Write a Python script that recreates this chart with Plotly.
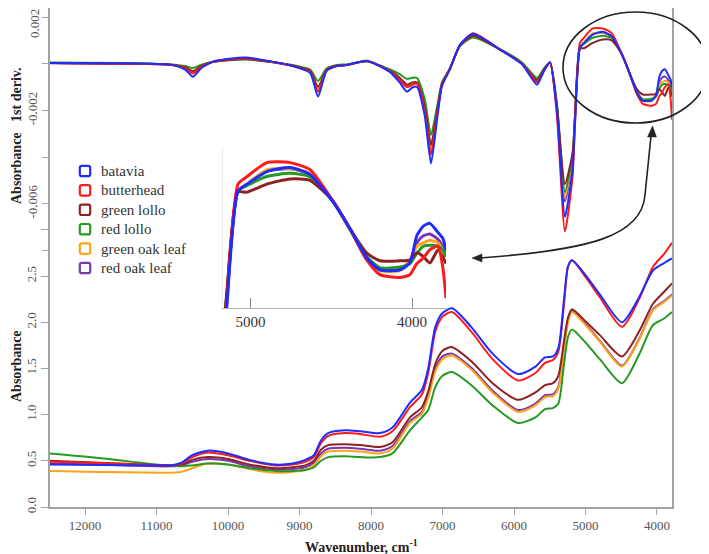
import plotly.graph_objects as go

# ---------------- data ----------------
series_names = ["batavia", "butterhead", "green lollo", "red lollo", "green oak leaf", "red oak leaf"]
series_colors = ["#1f2bff", "#ff1a1a", "#8b2323", "#249a24", "#ffa21a", "#7a35b5"]

# first derivative (units of 1e-3)
wn_deriv = [12500, 11500, 10800, 10600, 10490, 10380, 10200, 9760, 9400, 9035, 8850, 8741, 8620, 8476,
            8336, 8056, 7734, 7600, 7497, 7420, 7357, 7250, 7161, 7080, 7007, 6895, 6755, 6573, 6196,
            5888, 5678, 5580, 5497, 5400, 5287, 5180, 5147, 5078, 5022, 4899, 4756, 4633, 4490, 4385,
            4280, 4199, 4076, 4014, 3970, 3930, 3890, 3840, 3810, 3790]
d_batavia = [0.03, 0.02, -0.05, -0.25, -0.56, -0.2, 0.1, 0.27, 0.1, -0.15, -0.4, -1.41, -0.3, -0.1,
             -0.06, 0.13, -0.36, -0.8, -1.2, -1.02, -0.99, -2.2, -4.27, -2.5, -0.95, -0.23, 0.82, 1.28, 0.61,
             -0.02, -0.9, -0.3, 0.06, -2.0, -6.55, -4.5, -2.6, 0.69, 0.89, 1.25, 1.37, 1.17, 0.38, -0.39,
             -1.24, -1.58, -1.58, -1.38, -0.59, -0.32, -0.24, -0.5, -0.67, -1.01]
d_butterhead = [0.03, 0.0, -0.05, -0.2, -0.42, -0.15, 0.1, 0.22, 0.08, -0.15, -0.35, -1.2, -0.28, -0.1,
                -0.06, 0.12, -0.33, -0.7, -1.0, -0.9, -0.85, -2.0, -3.9, -2.3, -0.9, -0.2, 0.8, 1.3, 0.6,
                0.0, -0.8, -0.3, 0.05, -2.2, -7.18, -4.8, -2.5, 0.89, 1.11, 1.51, 1.51, 1.31, 0.4, -0.39,
                -1.3, -1.72, -1.8, -1.72, -1.4, -1.24, -1.0, -0.9, -1.5, -2.4]
d_green_lollo = [0.02, 0.0, -0.04, -0.15, -0.32, -0.1, 0.08, 0.2, 0.08, -0.12, -0.3, -0.99, -0.25, -0.08,
                 -0.05, 0.1, -0.3, -0.6, -0.9, -0.8, -0.8, -1.8, -3.47, -2.1, -0.85, -0.2, 0.78, 1.2, 0.6,
                 0.0, -0.7, -0.25, 0.05, -1.8, -5.16, -3.8, -2.2, 0.66, 0.66, 0.89, 1.04, 1.0, 0.4, -0.4,
                 -1.1, -1.32, -1.32, -1.3, -1.09, -1.2, -1.38, -1.01, -1.2, -1.4]
d_red_lollo = [0.05, 0.03, -0.03, -0.1, -0.19, -0.05, 0.08, 0.18, 0.07, -0.1, -0.25, -0.74, -0.2, -0.05,
               -0.03, 0.1, -0.25, -0.45, -0.65, -0.6, -0.61, -1.5, -3.05, -1.9, -0.8, -0.2, 0.75, 1.12, 0.62,
               0.05, -0.61, -0.2, 0.05, -1.7, -5.5, -3.9, -2.3, 0.69, 0.85, 1.11, 1.2, 1.1, 0.4, -0.4,
               -1.2, -1.52, -1.5, -1.4, -1.1, -0.9, -0.87, -0.9, -1.0, -1.2]
d_green_oak = [0.03, 0.01, -0.04, -0.17, -0.36, -0.12, 0.09, 0.22, 0.08, -0.13, -0.33, -1.1, -0.27, -0.09,
               -0.05, 0.11, -0.3, -0.65, -0.9, -0.82, -0.8, -1.85, -3.7, -2.2, -0.88, -0.2, 0.8, 1.2, 0.6,
               0.02, -0.7, -0.25, 0.05, -1.8, -5.7, -4.0, -2.3, 0.7, 0.9, 1.3, 1.34, 1.2, 0.4, -0.4,
               -1.3, -1.6, -1.6, -1.3, -0.9, -0.8, -0.73, -0.8, -1.0, -1.2]
d_red_oak = [0.03, 0.01, -0.04, -0.18, -0.38, -0.13, 0.09, 0.23, 0.08, -0.14, -0.35, -1.15, -0.28, -0.09,
             -0.05, 0.11, -0.32, -0.7, -0.95, -0.85, -0.83, -1.9, -3.8, -2.25, -0.9, -0.21, 0.8, 1.22, 0.6,
             0.01, -0.75, -0.27, 0.05, -1.85, -5.9, -4.1, -2.35, 0.7, 0.88, 1.27, 1.33, 1.18, 0.4, -0.4,
             -1.28, -1.58, -1.57, -1.33, -0.8, -0.6, -0.55, -0.7, -0.9, -1.15]

# absorbance
wn_abs = [12500, 11800, 11000, 10800, 10650, 10500, 10280, 10000, 9700, 9343, 9100, 8920, 8800, 8700,
          8600, 8364, 8150, 7874, 7700, 7455, 7287, 7200, 7100, 7000, 6867, 6600, 6300, 5944, 5700,
          5566, 5455, 5380, 5300, 5245, 5189, 5000, 4800, 4490, 4250, 4056, 3900, 3790]
a_batavia = [0.46, 0.455, 0.45, 0.45, 0.48, 0.56, 0.61, 0.58, 0.51, 0.46, 0.47, 0.51, 0.56, 0.72,
             0.80, 0.83, 0.82, 0.80, 0.86, 1.13, 1.27, 1.5, 1.95, 2.1, 2.15, 1.95, 1.66, 1.44, 1.52,
             1.62, 1.63, 1.72, 2.25, 2.6, 2.67, 2.51, 2.3, 2.0, 2.27, 2.56, 2.64, 2.69]
a_butterhead = [0.49, 0.475, 0.45, 0.45, 0.47, 0.54, 0.59, 0.56, 0.50, 0.45, 0.46, 0.49, 0.54, 0.69,
                0.77, 0.80, 0.79, 0.76, 0.82, 1.08, 1.22, 1.45, 1.9, 2.06, 2.11, 1.9, 1.6, 1.37, 1.45,
                1.56, 1.59, 1.68, 2.2, 2.6, 2.67, 2.49, 2.27, 1.95, 2.25, 2.6, 2.74, 2.86]
a_green_lollo = [0.50, 0.48, 0.455, 0.45, 0.46, 0.51, 0.54, 0.52, 0.46, 0.42, 0.43, 0.45, 0.50, 0.62,
                 0.67, 0.68, 0.67, 0.65, 0.70, 0.97, 1.08, 1.25, 1.55, 1.69, 1.73, 1.58, 1.34, 1.16, 1.24,
                 1.32, 1.34, 1.42, 1.8, 2.05, 2.14, 2.01, 1.86, 1.63, 1.9, 2.2, 2.33, 2.42]
a_red_lollo = [0.58, 0.53, 0.46, 0.45, 0.44, 0.45, 0.47, 0.46, 0.42, 0.39, 0.39, 0.40, 0.43, 0.50,
               0.54, 0.55, 0.54, 0.54, 0.58, 0.83, 0.97, 1.05, 1.3, 1.42, 1.46, 1.32, 1.1, 0.91, 0.97,
               1.06, 1.07, 1.12, 1.55, 1.84, 1.92, 1.78, 1.6, 1.34, 1.65, 1.97, 2.04, 2.11]
a_green_oak = [0.39, 0.38, 0.37, 0.37, 0.38, 0.42, 0.47, 0.46, 0.41, 0.37, 0.38, 0.40, 0.45, 0.55,
               0.60, 0.61, 0.60, 0.58, 0.63, 0.91, 1.01, 1.18, 1.47, 1.60, 1.64, 1.49, 1.24, 1.03, 1.10,
               1.19, 1.20, 1.28, 1.72, 2.0, 2.11, 1.97, 1.79, 1.52, 1.81, 2.13, 2.22, 2.29]
a_red_oak = [0.47, 0.46, 0.44, 0.44, 0.45, 0.49, 0.52, 0.50, 0.44, 0.40, 0.41, 0.43, 0.48, 0.58,
             0.63, 0.64, 0.63, 0.61, 0.66, 0.93, 1.03, 1.2, 1.5, 1.63, 1.66, 1.51, 1.26, 1.05, 1.12,
             1.21, 1.22, 1.3, 1.74, 2.02, 2.12, 1.98, 1.8, 1.53, 1.82, 2.14, 2.23, 2.3]

abs_ticks = [0.0, 0.5, 1.0, 1.5, 2.0, 2.5, 3.0]
abs_ticktext = ["0.0", "0.5", "1.0", "1.5", "2.0", "2.5", " "]
deriv_ticks = [0.002, 0.0, -0.002, -0.004, -0.006, -0.008]
deriv_ticktext = [" ", " ", "-0.002", " ", "-0.006", " "]
deriv_top_label = "0.002"
wn_ticks = [12000, 11000, 10000, 9000, 8000, 7000, 6000, 5000, 4000]
wn_ticktext = ["12000", "11000", "10000", "9000", "8000", "7000", "6000", "5000", "4000"]
inset_ticks = [5000, 4000]
inset_ticktext = ["5000", "4000"]

deriv_series = [d_batavia, d_butterhead, d_green_lollo, d_red_lollo, d_green_oak, d_red_oak]
abs_series = [a_batavia, a_butterhead, a_green_lollo, a_red_lollo, a_green_oak, a_red_oak]

# ---------------- geometry (window pixels; page body adds an 8px offset) ----------------
OFF = 8
W, H = 709 - OFF, 554 - OFF
PL, PR, PT, PB = 50, 672, 8, 507          # plot area in window pixels
ML, MT = PL - OFF, PT - OFF
MR = W - (PR - OFF)
MB = H - (PB - OFF)
PW, PH = PR - PL, PB - PT


def fx(x):
    return (x - PL) / PW


def fy(y):
    return (PB - y) / PH


SERIF = "Liberation Serif, Times New Roman, serif"
draw_order = [5, 4, 3, 2, 1, 0]

fig = go.Figure()

for i in draw_order:
    fig.add_trace(go.Scatter(x=wn_abs, y=abs_series[i], mode="lines", xaxis="x", yaxis="y",
                             line=dict(color=series_colors[i], width=2, shape="spline", smoothing=0.7),
                             showlegend=False, hoverinfo="skip"))
for i in draw_order:
    fig.add_trace(go.Scatter(x=wn_deriv, y=[v * 1e-3 for v in deriv_series[i]], mode="lines",
                             xaxis="x", yaxis="y2",
                             line=dict(color=series_colors[i], width=2, shape="spline", smoothing=0.6),
                             showlegend=False, hoverinfo="skip"))
for i in draw_order:
    fig.add_trace(go.Scatter(x=wn_deriv, y=[v * 1e-3 for v in deriv_series[i]], mode="lines",
                             xaxis="x3", yaxis="y3",
                             line=dict(color=series_colors[i], width=3, shape="spline", smoothing=0.6),
                             showlegend=False, hoverinfo="skip"))

axis_gray = "#a3a3a3"
abs_top = (PB - PT) / 92.4
d_top = 0.002 + (17 - PT) / 46.7 * 0.002
d_bot = 0.002 - (PB - 17) / 46.7 * 0.002

fig.update_layout(
    width=W, height=H,
    margin=dict(l=ML, r=MR, t=MT, b=MB, pad=0),
    paper_bgcolor="white", plot_bgcolor="rgba(0,0,0,0)",
    font=dict(family=SERIF, color="#555"),
    showlegend=False,
    xaxis=dict(range=[12490, 3790], domain=[0, 1], anchor="y", tickvals=wn_ticks, ticktext=wn_ticktext,
               showline=True, mirror=True, linecolor=axis_gray, linewidth=1.6,
               ticks="outside", ticklen=6, tickcolor=axis_gray, tickwidth=1.3, automargin=False,
               showgrid=False, zeroline=False, tickfont=dict(size=13, color="#555")),
    yaxis=dict(range=[0, abs_top], domain=[0, 1], anchor="x", tickvals=abs_ticks, ticktext=abs_ticktext,
               showline=True, mirror=True, linecolor=axis_gray, linewidth=1.6, automargin=False,
               ticks="outside", ticklen=7, tickcolor=axis_gray, tickwidth=1.3, tickangle=-90,
               showgrid=False, zeroline=False, tickfont=dict(size=13, color="#555")),
    yaxis2=dict(range=[d_bot, d_top], overlaying="y", side="left", anchor="x",
                tickvals=deriv_ticks, ticktext=deriv_ticktext, automargin=False,
                showline=False, ticks="outside", ticklen=7, tickcolor=axis_gray, tickwidth=1.3,
                tickangle=-90, showgrid=False, zeroline=False, tickfont=dict(size=13, color="#555")),
    xaxis3=dict(domain=[fx(223), fx(446)], range=[5171, 3790], anchor="y3", tickvals=inset_ticks,
                ticktext=inset_ticktext, automargin=False,
                showline=True, linecolor="#b0b0b0", linewidth=1.3, ticks="inside", ticklen=10,
                tickcolor="#888", tickwidth=1.3, showgrid=False, zeroline=False,
                tickfont=dict(size=15, color="#333")),
    yaxis3=dict(domain=[fy(308), fy(147)], range=[-0.00268, 0.00196], anchor="x3", automargin=False,
                showline=True, linecolor="#ebebeb", linewidth=1, ticks="", showticklabels=False,
                showgrid=False, zeroline=False),
)

# top derivative tick label (kept inside the page)
fig.add_annotation(xref="paper", yref="paper", x=fx(34), y=fy(24), xanchor="center", yanchor="middle",
                   text=deriv_top_label, textangle=-90, showarrow=False,
                   font=dict(family=SERIF, size=13, color="#555"))

# axis titles
fig.add_annotation(xref="paper", yref="paper", x=fx(16), y=fy(136), xanchor="center", yanchor="middle",
                   text="<b>Absorbance\u00a0\u00a0\u00a01st deriv.</b>",
                   textangle=-90, showarrow=False, font=dict(family=SERIF, size=14, color="#222"))
fig.add_annotation(xref="paper", yref="paper", x=fx(16), y=fy(366), xanchor="center", yanchor="middle",
                   text="<b>Absorbance</b>",
                   textangle=-90, showarrow=False, font=dict(family=SERIF, size=14, color="#222"))
fig.add_annotation(xref="paper", yref="paper", x=fx(361), y=fy(546), xanchor="center", yanchor="middle",
                   text="<b>Wavenumber, cm<sup>-1</sup></b>",
                   showarrow=False, font=dict(family=SERIF, size=14, color="#222"))


def P(x, y):
    return f"{fx(x):.5f},{fy(y):.5f}"


# legend (rounded open squares + labels)
legend_y0, legend_dy = 171, 19.4
for i, name in enumerate(series_names):
    cy = legend_y0 + i * legend_dy
    cx, h, r = 85, 5.2, 2.0
    path = (f"M {P(cx - h + r, cy - h)} L {P(cx + h - r, cy - h)} Q {P(cx + h, cy - h)} {P(cx + h, cy - h + r)} "
            f"L {P(cx + h, cy + h - r)} Q {P(cx + h, cy + h)} {P(cx + h - r, cy + h)} "
            f"L {P(cx - h + r, cy + h)} Q {P(cx - h, cy + h)} {P(cx - h, cy + h - r)} "
            f"L {P(cx - h, cy - h + r)} Q {P(cx - h, cy - h)} {P(cx - h + r, cy - h)} Z")
    fig.add_shape(type="path", xref="paper", yref="paper", path=path,
                  line=dict(color=series_colors[i], width=2.2))
    fig.add_annotation(xref="paper", yref="paper", x=fx(99), y=fy(cy), xanchor="left", yanchor="middle",
                       text=name, showarrow=False, font=dict(family=SERIF, size=15, color="#333"))

# ellipse around the zoomed region
fig.add_shape(type="circle", xref="paper", yref="paper", x0=fx(563), x1=fx(708), y0=fy(123), y1=fy(12),
              line=dict(color="#222", width=1.6))

# curved double arrow
fig.add_shape(type="path", xref="paper", yref="paper",
              path=f"M {P(480, 258)} C {P(590, 250)} {P(642, 236)} {P(645, 195)} L {P(651, 136)}",
              line=dict(color="#222", width=1.6))
fig.add_shape(type="path", xref="paper", yref="paper",
              path=f"M {P(652.5, 126)} L {P(647.5, 137)} L {P(656.5, 137)} Z",
              fillcolor="#222", line=dict(color="#222", width=0.5))
fig.add_shape(type="path", xref="paper", yref="paper",
              path=f"M {P(472, 258)} L {P(482, 254)} L {P(482, 262)} Z",
              fillcolor="#222", line=dict(color="#222", width=0.5))

fig.write_html("out.html")
